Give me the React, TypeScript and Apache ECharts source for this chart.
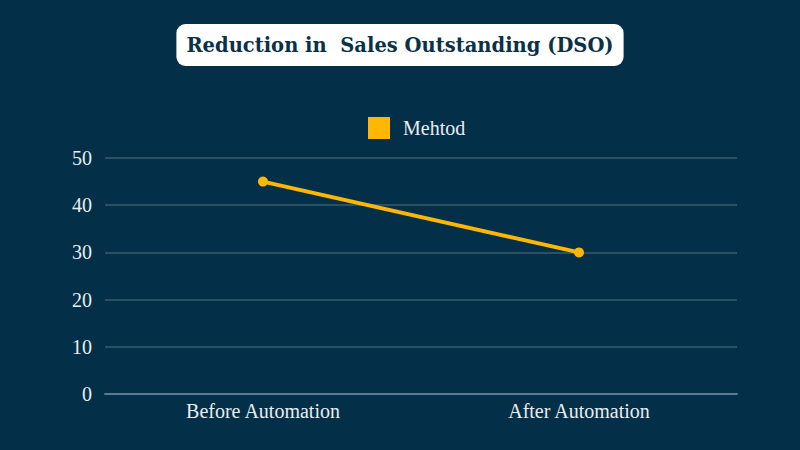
import React, { useEffect, useRef } from "react";
import * as echarts from "echarts";

const categories = ["Before Automation", "After Automation"];
const methodValues = [45, 30];
const seriesName = "Mehtod";
const titleText = "Reduction in  Sales Outstanding (DSO)";

export default function App() {
  const ref = useRef<HTMLDivElement>(null);
  useEffect(() => {
    document.body.style.margin = "0";
    const chart = echarts.init(ref.current!, null, { renderer: "svg" });
    chart.setOption({
      animation: false,
      backgroundColor: "#033048",
      title: {
        text: titleText,
        left: "center",
        top: 24,
        backgroundColor: "#ffffff",
        borderRadius: 9,
        padding: [9, 10, 9, 10],
        textStyle: {
          color: "#0a3148",
          fontFamily: "DejaVu Serif",
          fontWeight: "bold",
          fontSize: 19.5,
          lineHeight: 24,
        },
      },
      legend: {
        top: 117,
        left: 368,
        padding: 0,
        itemWidth: 22,
        itemHeight: 22,
        itemGap: 10,
        icon: "rect",
        textStyle: { color: "#e8eef2", fontFamily: "Liberation Serif", fontSize: 20, padding: [0, 0, 0, 8] },
        data: [seriesName],
      },
      grid: { left: 105, right: 63, top: 158, bottom: 56, containLabel: false },
      xAxis: {
        type: "category",
        data: categories,
        boundaryGap: true,
        axisLine: { show: true, lineStyle: { color: "#5b7a8b", width: 2 } },
        axisTick: { show: false },
        axisLabel: { color: "#e8eef2", fontFamily: "Liberation Serif", fontSize: 20, margin: 7 },
      },
      yAxis: {
        type: "value",
        min: 0,
        max: 50,
        interval: 10,
        axisLine: { show: false },
        axisTick: { show: false },
        axisLabel: { color: "#e8eef2", fontFamily: "Liberation Serif", fontSize: 20, margin: 13 },
        splitLine: { lineStyle: { color: "#3a5b6e", width: 1.5 } },
      },
      series: [
        {
          name: seriesName,
          type: "line",
          data: methodValues,
          symbol: "circle",
          symbolSize: 10,
          itemStyle: { color: "#ffb703" },
          lineStyle: { color: "#ffb703", width: 4 },
        },
      ],
    });
    return () => chart.dispose();
  }, []);
  return <div ref={ref} style={{ width: 800, height: 450 }} />;
}
